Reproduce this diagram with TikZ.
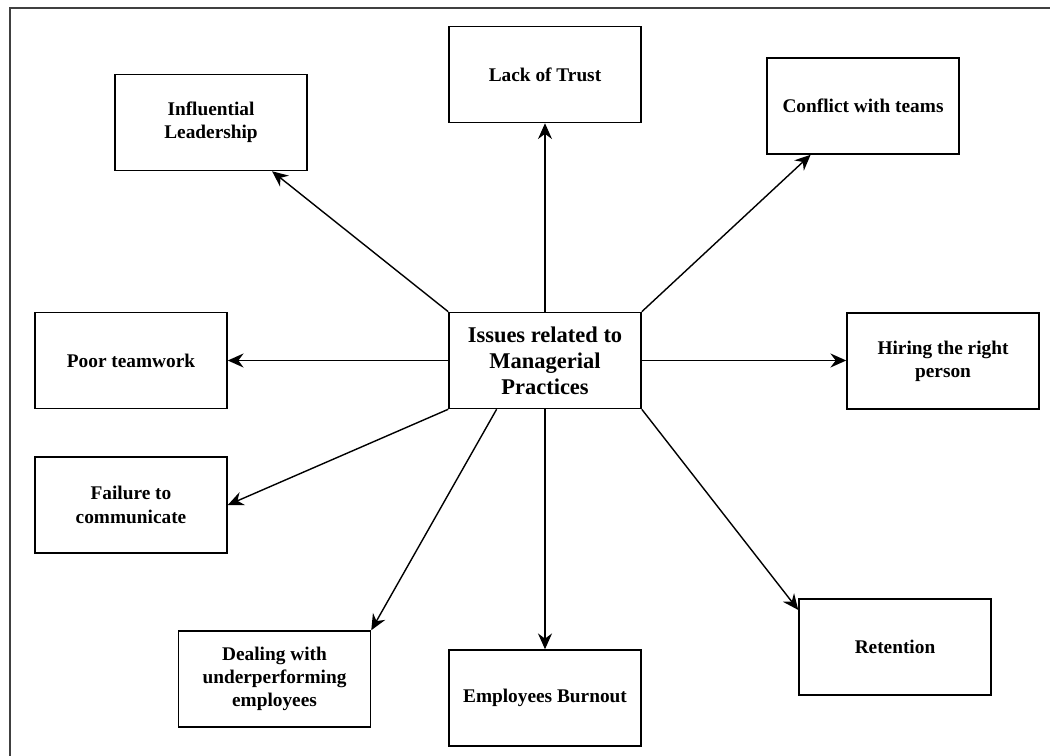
\documentclass[tikz,border=0pt]{standalone}
\usepackage{fontspec}
\setmainfont{Liberation Serif}
\usetikzlibrary{arrows.meta,calc}

\tikzset{
  box/.style={draw,line width=0.9pt,minimum width=3.84cm,minimum height=1.92cm,
    align=center,inner sep=2pt,font=\bfseries\fontsize{11}{13.2}\selectfont},
  hubbox/.style={box,font=\bfseries\fontsize{12.8}{14.8}\selectfont},
  link/.style={line width=0.8pt,-{Stealth[length=9pt,width=8pt,inset=3pt]}},
  frame/.style={line width=1.1pt,black!75}
}

\begin{document}
\begin{tikzpicture}[x=0.02cm,y=-0.02cm]
\useasboundingbox (0,0) rectangle (1050,756);
\draw[frame] (10,760) |- (1052,8);

\node[hubbox] (hub) at (545,360.5) {Issues related to\\Managerial\\Practices};

\node[box] (infl) at (211,122.5) {Influential\\Leadership};
\node[box] (trust) at (545,74.5) {Lack of Trust};
\node[box] (conf) at (863,106) {Conflict with teams};
\node[box] (poor) at (131,360.5) {Poor teamwork};
\node[box] (hire) at (943,361) {Hiring the right\\person};
\node[box] (fail) at (131,505) {Failure to\\communicate};
\node[box] (deal) at (274.5,679) {Dealing with\\underperforming\\employees};
\node[box] (burn) at (545,698) {Employees Burnout};
\node[box] (ret) at (895,647) {Retention};

\draw[link] (hub.north west) -- (infl);
\draw[link] (hub.north) -- (trust.south);
\draw[link] (hub.north east) -- (conf);
\draw[link] (hub.west) -- (poor.east);
\draw[link] (hub.east) -- (hub.east -| hire.west);
\draw[link] (hub.south west) -- (fail.east);
\draw[link] ($(hub.south west)!0.25!(hub.south east)$) -- (deal.north east);
\draw[link] (hub.south) -- (burn.north);
\draw[link] (hub.south east) -- ($(ret.north west)!0.12!(ret.south west)$);
\end{tikzpicture}
\end{document}
